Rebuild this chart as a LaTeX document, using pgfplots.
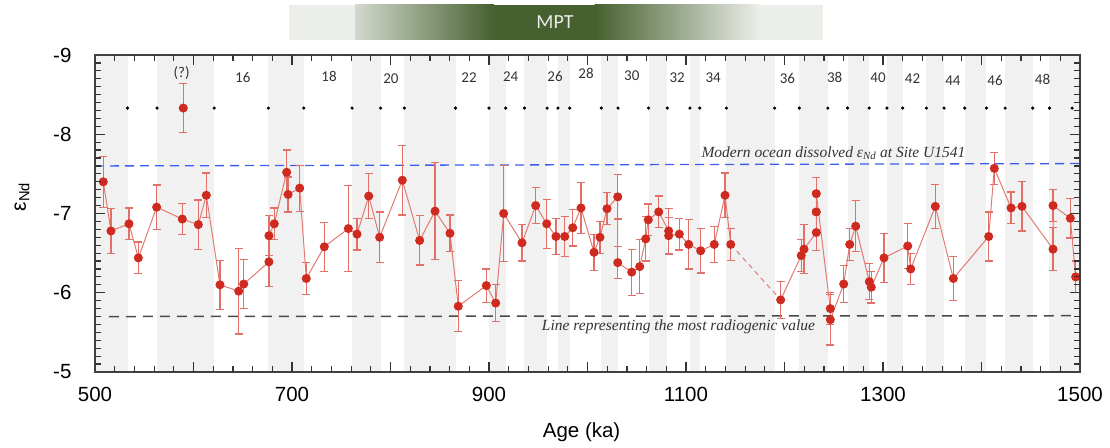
\documentclass[border=0pt]{standalone}
\usepackage{fontspec}
\setmainfont{Liberation Sans}
\newfontfamily\serifit{Liberation Serif}
\newfontfamily\carlito{Carlito}
\usepackage{pgfplots}
\pgfplotsset{compat=1.18}

\definecolor{bandgray}{HTML}{F1F1F1}
\definecolor{ptred}{HTML}{CF2A1F}
\definecolor{linered}{HTML}{E27A72}
\definecolor{errred}{HTML}{E27068}
\definecolor{mptdark}{HTML}{46602F}
\definecolor{mptlight}{HTML}{ECEEE9}
\definecolor{modblue}{HTML}{3D5CF0}
\definecolor{radgray}{HTML}{4A4A4A}
\definecolor{framegray}{HTML}{404040}
\definecolor{txtgray}{HTML}{333333}

\pgfplotsset{
  nd/.style={linered, line width=1pt, mark=*, mark size=4pt,
    mark options={fill=ptred, draw=ptred, solid},
    error bars/.cd, y dir=both, y explicit,
    error bar style={draw=errred, line width=1.2pt},
    error mark options={rotate=90, mark size=4pt, draw=errred, line width=1.2pt}},
}

\begin{document}
\begin{tikzpicture}
\begin{axis}[
    name=ax,
    scale only axis, width=985pt, height=317pt,
    xmin=500, xmax=1500, ymin=-9, ymax=-5, y dir=reverse,
    clip=false, axis on top,
    axis line style={draw=framegray, line width=1.3pt},
    every tick/.style={draw=txtgray, line width=1.1pt},
    major tick length=10pt, minor tick length=6pt,
    xtick={500,600,...,1500},
    xticklabels={500,,700,,900,,1100,,1300,,1500},
    minor x tick num=4,
    ytick={-9,-8,-7,-6,-5},
    yticklabels={-9,-8,-7,-6,-5},
    minor y tick num=9,
    xticklabel style={font=\fontsize{20.5}{24}\selectfont, yshift=-12pt},
    yticklabel style={font=\fontsize{20.5}{24}\selectfont, xshift=-20pt},
    xlabel={Age (ka)},
    xlabel style={font=\fontsize{20.5}{24}\selectfont, at={(axis description cs:0.494,-0.19)}, anchor=center},
    ylabel={ε\textsubscript{Nd}},
    ylabel style={font=\fontsize{21}{24}\selectfont, at={(axis description cs:-0.074,0.552)}, anchor=center},
]
% interglacial bands (odd MIS)
\addplot[fill=bandgray, draw=none] coordinates {(500,-9) (533,-9) (533,-5) (500,-5)};
\addplot[fill=bandgray, draw=none] coordinates {(563,-9) (621,-9) (621,-5) (563,-5)};
\addplot[fill=bandgray, draw=none] coordinates {(676,-9) (712,-9) (712,-5) (676,-5)};
\addplot[fill=bandgray, draw=none] coordinates {(761,-9) (790,-9) (790,-5) (761,-5)};
\addplot[fill=bandgray, draw=none] coordinates {(814,-9) (866,-9) (866,-5) (814,-5)};
\addplot[fill=bandgray, draw=none] coordinates {(900,-9) (917,-9) (917,-5) (900,-5)};
\addplot[fill=bandgray, draw=none] coordinates {(936,-9) (959,-9) (959,-5) (936,-5)};
\addplot[fill=bandgray, draw=none] coordinates {(970,-9) (982,-9) (982,-5) (970,-5)};
\addplot[fill=bandgray, draw=none] coordinates {(1014,-9) (1031,-9) (1031,-5) (1014,-5)};
\addplot[fill=bandgray, draw=none] coordinates {(1062,-9) (1081,-9) (1081,-5) (1062,-5)};
\addplot[fill=bandgray, draw=none] coordinates {(1104,-9) (1114,-9) (1114,-5) (1104,-5)};
\addplot[fill=bandgray, draw=none] coordinates {(1141,-9) (1190,-9) (1190,-5) (1141,-5)};
\addplot[fill=bandgray, draw=none] coordinates {(1215,-9) (1244,-9) (1244,-5) (1215,-5)};
\addplot[fill=bandgray, draw=none] coordinates {(1264,-9) (1286,-9) (1286,-5) (1264,-5)};
\addplot[fill=bandgray, draw=none] coordinates {(1304,-9) (1320,-9) (1320,-5) (1304,-5)};
\addplot[fill=bandgray, draw=none] coordinates {(1344,-9) (1362,-9) (1362,-5) (1344,-5)};
\addplot[fill=bandgray, draw=none] coordinates {(1383,-9) (1405,-9) (1405,-5) (1383,-5)};
\addplot[fill=bandgray, draw=none] coordinates {(1424,-9) (1452,-9) (1452,-5) (1424,-5)};
\addplot[fill=bandgray, draw=none] coordinates {(1469,-9) (1500,-9) (1500,-5) (1469,-5)};

% MIS boundaries
\addplot[only marks, mark=*, mark size=1.4pt, black] coordinates {
 (533,-8.33) (563,-8.33) (621,-8.33) (676,-8.33) (712,-8.33) (761,-8.33)
 (790,-8.33) (814,-8.33) (866,-8.33) (900,-8.33) (917,-8.33) (936,-8.33)
 (959,-8.33) (970,-8.33) (982,-8.33) (1014,-8.33) (1031,-8.33) (1062,-8.33)
 (1081,-8.33) (1104,-8.33) (1114,-8.33) (1141,-8.33) (1190,-8.33) (1215,-8.33)
 (1244,-8.33) (1264,-8.33) (1286,-8.33) (1304,-8.33) (1320,-8.33) (1344,-8.33)
 (1362,-8.33) (1383,-8.33) (1405,-8.33) (1424,-8.33) (1452,-8.33) (1469,-8.33)
 (1492,-8.33)
};

% reference lines
\addplot[modblue, line width=1.3pt, dash pattern=on 9pt off 6pt] coordinates {(500,-7.60) (1500,-7.63)};
\addplot[radgray, line width=1.5pt, dash pattern=on 10pt off 7pt] coordinates {(514,-5.70) (1496,-5.71)};

% eNd record
\addplot[nd] coordinates {
 (508.4,-7.40) +- (0,0.32)  (516.2,-6.78) +- (0,0.28)  (534.5,-6.87) +- (0,0.20)
 (544.0,-6.44) +- (0,0.20)  (562.6,-7.08) +- (0,0.28)  (588.6,-6.93) +- (0,0.20)
 (604.9,-6.86) +- (0,0.31)  (613.0,-7.23) +- (0,0.28)  (626.9,-6.10) +- (0,0.31)
 (645.9,-6.02) +- (0,0.54)  (651.0,-6.11) +- (0,0.31)  (676.6,-6.39) +- (0,0.31)
 (676.6,-6.72) +- (0,0.25)  (682.0,-6.87) +- (0,0.20)  (694.6,-7.52) +- (0,0.28)
 (696.0,-7.24) +- (0,0.22)  (707.8,-7.32) +- (0,0.29)  (714.5,-6.18) +- (0,0.20)
 (732.8,-6.58) +- (0,0.31)  (757.2,-6.81) +- (0,0.54)  (766.0,-6.74) +- (0,0.20)
 (777.9,-7.22) +- (0,0.28)  (789.0,-6.70) +- (0,0.32)  (812.0,-7.42) +- (0,0.44)
 (829.6,-6.66) +- (0,0.31)  (845.2,-7.03) +- (0,0.61)  (860.4,-6.75) +- (0,0.23)
 (868.8,-5.83) +- (0,0.32)  (897.3,-6.09) +- (0,0.21)  (906.8,-5.87) +- (0,0.23)
 (914.9,-7.00) +- (0,0.61)  (933.5,-6.63) +- (0,0.23)  (947.4,-7.10) +- (0,0.23)
 (958.6,-6.87) +- (0,0.31)  (968.0,-6.71) +- (0,0.23)  (976.9,-6.71) +- (0,0.25)
 (985.0,-6.82) +- (0,0.23)  (993.4,-7.07) +- (0,0.32)  (1006.6,-6.51) +- (0,0.23)
 (1012.7,-6.70) +- (0,0.20) (1019.8,-7.06) +- (0,0.20) (1030.7,-7.21) +- (0,0.28)
 (1030.7,-6.38) +- (0,0.20) (1044.9,-6.26) +- (0,0.29) (1053.0,-6.33) +- (0,0.34)
 (1059.1,-6.68) +- (0,0.28) (1061.7,-6.92) +- (0,0.20) (1072.3,-7.02) +- (0,0.20)
 (1082.4,-6.78) +- (0,0.28) (1082.4,-6.72) +- (0,0.23) (1093.2,-6.74) +- (0,0.20)
 (1102.7,-6.61) +- (0,0.31) (1114.9,-6.53) +- (0,0.28) (1128.7,-6.61) +- (0,0.23)
 (1139.6,-7.23) +- (0,0.28) (1145.4,-6.61) +- (0,0.20)
};
\addplot[linered, line width=1pt, dash pattern=on 5pt off 4pt] coordinates {(1145.4,-6.61) (1196.1,-5.91)};
\addplot[nd] coordinates {
 (1196.1,-5.91) +- (0,0.23) (1217.0,-6.47) +- (0,0.20) (1219.8,-6.55) +- (0,0.31)
 (1232.3,-6.76) +- (0,0.23) (1232.3,-7.02) +- (0,0.25) (1232.3,-7.25) +- (0,0.20)
 (1246.5,-5.80) +- (0,0.20) (1246.5,-5.66) +- (0,0.32) (1260.1,-6.11) +- (0,0.23)
 (1266.2,-6.61) +- (0,0.20) (1272.3,-6.84) +- (0,0.32) (1286.1,-6.14) +- (0,0.23)
 (1288.1,-6.07) +- (0,0.20) (1301.0,-6.44) +- (0,0.31) (1325.1,-6.59) +- (0,0.28)
 (1328.1,-6.30) +- (0,0.20) (1353.1,-7.09) +- (0,0.28) (1371.4,-6.18) +- (0,0.28)
 (1407.3,-6.71) +- (0,0.31) (1413.0,-7.57) +- (0,0.20) (1430.0,-7.07) +- (0,0.20)
 (1441.1,-7.09) +- (0,0.31) (1472.6,-6.55) +- (0,0.27) (1472.6,-7.10) +- (0,0.20)
 (1490.2,-6.94) +- (0,0.25) (1495.6,-6.20) +- (0,0.20)
};
% questionable sample
\addplot[only marks, nd] coordinates {(589.6,-8.33) +- (0,0.31)};

% stage numbers
\foreach \px/\py/\lab in {588/-8.77/(?), 650/-8.72/16, 737.6/-8.73/18, 800.5/-8.70/20,
  879.7/-8.72/22, 922/-8.73/24, 967/-8.73/26, 998.5/-8.77/28, 1045/-8.74/30,
  1091/-8.71/32, 1127.6/-8.71/34, 1203/-8.70/36, 1251/-8.72/38, 1295/-8.72/40,
  1330/-8.70/42, 1371/-8.68/44, 1413.7/-8.68/46, 1462/-8.69/48}{
  \edef\temp{\noexpand\node[font=\noexpand\carlito\noexpand\fontsize{15}{18}\noexpand\selectfont, text=txtgray] at (axis cs:\px,\py) {\lab};}
  \temp
}

% annotations
\node[font=\serifit\itshape\fontsize{15.5}{18}\selectfont, text=txtgray] at (axis cs:1249.7,-7.76)
  {Modern ocean dissolved ε\textsubscript{Nd} at Site U1541};
\node[font=\serifit\itshape\fontsize{15.5}{18}\selectfont, text=txtgray] at (axis cs:1092.4,-5.57)
  {Line representing the most radiogenic value};
\end{axis}
% frame and ticks as filled shapes, drawn once the axis is finished
\fill[framegray, even odd rule]
  ([xshift=-0.8pt,yshift=-0.8pt]ax.south west) rectangle ([xshift=0.8pt,yshift=0.8pt]ax.north east)
  ([xshift=0.8pt,yshift=0.8pt]ax.south west) rectangle ([xshift=-0.8pt,yshift=-0.8pt]ax.north east);
\foreach \i [evaluate=\i as \len using {ifthenelse(mod(\i,5)==0,10,6)}] in {1,...,49}{
  \fill[txtgray] ([xshift=\i*19.7pt-0.6pt]ax.south west) rectangle ++(1.2pt,\len pt);
  \fill[txtgray] ([xshift=\i*19.7pt-0.6pt]ax.north west) rectangle ++(1.2pt,-\len pt);
}
\foreach \j [evaluate=\j as \len using {ifthenelse(mod(\j,10)==0,10,6)}] in {1,...,39}{
  \fill[txtgray] ([yshift=\j*7.925pt-0.6pt]ax.south west) rectangle ++(\len pt,1.2pt);
  \fill[txtgray] ([yshift=\j*7.925pt-0.6pt]ax.south east) rectangle ++(-\len pt,1.2pt);
}
% MPT bar
\fill[mptlight] ([xshift=194pt,yshift=15pt]ax.north west) rectangle ([xshift=728pt,yshift=50pt]ax.north west);
\shade[left color=mptlight!85!mptdark, right color=mptdark] ([xshift=260pt,yshift=15pt]ax.north west) rectangle ([xshift=399pt,yshift=50pt]ax.north west);
\fill[mptdark] ([xshift=398.5pt,yshift=15pt]ax.north west) rectangle ([xshift=500pt,yshift=50pt]ax.north west);
\shade[left color=mptdark, right color=mptlight] ([xshift=499.5pt,yshift=15pt]ax.north west) rectangle ([xshift=664pt,yshift=50pt]ax.north west);
\node[font=\carlito\fontsize{20}{24}\selectfont, text=white!92!black] at ([xshift=460pt,yshift=33pt]ax.north west) {MPT};
\path ([xshift=-95pt,yshift=-76pt]ax.south west) rectangle ([xshift=30pt,yshift=55pt]ax.north east);
\end{tikzpicture}
\end{document}
